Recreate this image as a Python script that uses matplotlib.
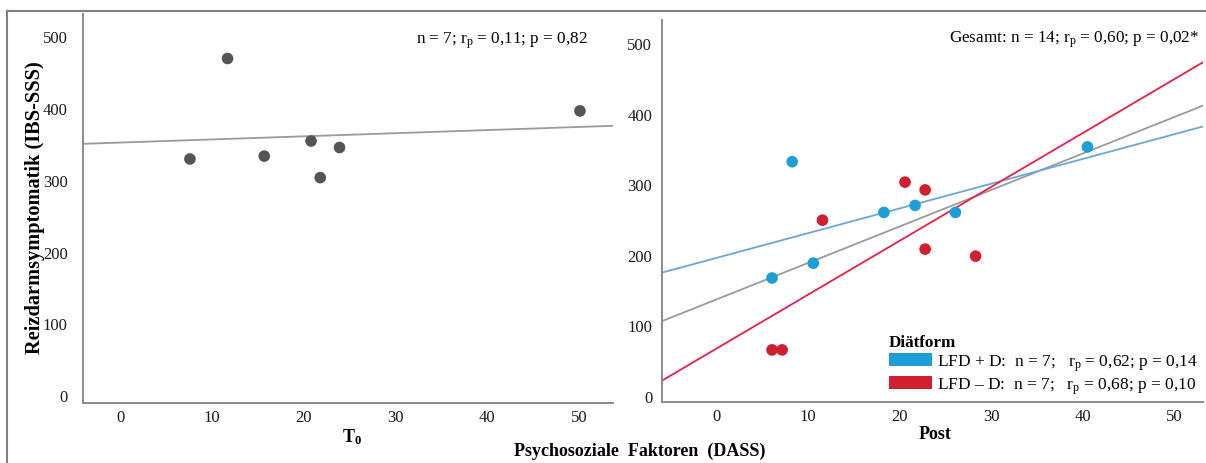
import numpy as np
import matplotlib
matplotlib.use("Agg")
import matplotlib.pyplot as plt
from matplotlib.patches import Patch
from matplotlib.lines import Line2D

plt.rcParams["font.family"] = ["Liberation Serif", "DejaVu Serif"]
plt.rcParams["mathtext.fontset"] = "custom"
plt.rcParams["mathtext.rm"] = "Liberation Serif"
plt.rcParams["mathtext.it"] = "Liberation Serif:italic"
plt.rcParams["mathtext.bf"] = "Liberation Serif:bold"

# DASS-Werte und IBS-SSS zum Zeitpunkt T0
t0_dass = [7.6, 11.7, 15.7, 20.8, 21.8, 23.9, 50.1]
t0_ibs = [329, 469, 333, 354, 303, 345, 396]

# Post: getrennt nach Diätform
lfd_plus_dass = [8.3, 6.1, 10.6, 18.3, 21.7, 26.1, 40.5]
lfd_plus_ibs = [332, 167, 188, 260, 270, 260, 353]
lfd_minus_dass = [11.6, 20.6, 22.8, 22.8, 28.3, 6.1, 7.2]
lfd_minus_ibs = [249, 303, 292, 208, 198, 65, 65]

x_ticks = [0, 10, 20, 30, 40, 50]
y_ticks = [0, 100, 200, 300, 400, 500]

blau_punkt = "#1c9fd6"
rot_punkt = "#cf1f30"
blau_linie = "#6aa6de"
rot_linie = "#e8204a"
grau_linie = "#9a9a9a"
achse = "#8a8a8a"

W, H = 1206, 464
fig = plt.figure(figsize=(W / 100, H / 100), dpi=100)

# Rahmen um die Abbildung
fig.add_artist(Line2D([7 / W, 7 / W], [0, 1 - 12 / H], color="#7f7f7f", lw=1.5))
fig.add_artist(Line2D([7 / W, 1], [1 - 12 / H, 1 - 12 / H], color="#7f7f7f", lw=1.5))


def box(x0, x1, y0, y1):
    return [x0 / W, 1 - y1 / H, (x1 - x0) / W, (y1 - y0) / H]


def achsen_stil(ax, pad_y):
    for s in ["top", "right"]:
        ax.spines[s].set_visible(False)
    for s in ["left", "bottom"]:
        ax.spines[s].set_color(achse)
        ax.spines[s].set_linewidth(1.4)
    ax.set_xticks(x_ticks)
    ax.set_yticks(y_ticks)
    ax.tick_params(axis="both", length=0, labelsize=12, colors="#1a1a1a")
    ax.tick_params(axis="x", pad=4)
    ax.tick_params(axis="y", pad=pad_y)


def fit_linie(ax, x, y, farbe):
    k, d = np.polyfit(x, y, 1)
    xs = np.array(ax.get_xlim())
    ax.plot(xs, k * xs + d, color=farbe, lw=1.3, zorder=2)


# --- T0 ---
ax1 = fig.add_axes(box(83, 613, 15, 404))
ax1.set_xlim(-4.05, 53.7)
ax1.set_ylim(-11, 531)
achsen_stil(ax1, 11)
fit_linie(ax1, t0_dass, t0_ibs, grau_linie)
ax1.scatter(t0_dass, t0_ibs, s=70, color="#555555", edgecolors="none", zorder=3)
ax1.text(0.953, 0.935, r"n = 7; r$_\mathrm{p}$ = 0,11; p = 0,82", transform=ax1.transAxes,
         ha="right", va="center", fontsize=12.3)

# --- Post ---
ax2 = fig.add_axes(box(662, 1203, 21, 403))
ax2.set_xlim(-5.9, 53.1)
ax2.set_ylim(-8.9, 533)
achsen_stil(ax2, 7)
alle_x = lfd_plus_dass + lfd_minus_dass
alle_y = lfd_plus_ibs + lfd_minus_ibs
fit_linie(ax2, alle_x, alle_y, grau_linie)
fit_linie(ax2, lfd_plus_dass, lfd_plus_ibs, blau_linie)
fit_linie(ax2, lfd_minus_dass, lfd_minus_ibs, rot_linie)
ax2.scatter(lfd_plus_dass, lfd_plus_ibs, s=70, color=blau_punkt, edgecolors="none", zorder=3)
ax2.scatter(lfd_minus_dass, lfd_minus_ibs, s=70, color=rot_punkt, edgecolors="none", zorder=3)
ax2.text(0.994, 0.95, r"Gesamt: n = 14; r$_\mathrm{p}$ = 0,60; p = 0,02*", transform=ax2.transAxes,
         ha="right", va="center", fontsize=12.3)

handles = [Patch(facecolor=blau_punkt, edgecolor="none"), Patch(facecolor=rot_punkt, edgecolor="none")]
labels = [r"LFD + D:  n = 7;   r$_\mathrm{p}$ = 0,62; p = 0,14",
          r"LFD – D:  n = 7;   r$_\mathrm{p}$ = 0,68; p = 0,10"]
leg = ax2.legend(handles, labels, title="Diätform", loc="lower right",
                 bbox_to_anchor=(1.014, -0.016), frameon=False, fontsize=12.5,
                 title_fontproperties={"weight": "bold", "size": 12.3},
                 handlelength=2.5, handleheight=0.8, handletextpad=0.3,
                 labelspacing=0.15, borderpad=0.2)
leg._legend_box.align = "left"

# Achsentitel
fig.text(35 / W, 1 - 208 / H, "Reizdarmsymptomatik (IBS-SSS)", rotation=90,
         ha="center", va="center", fontsize=14.7, fontweight="bold")
fig.text(352 / W, 1 - 437 / H, r"$\mathbf{T_0}$", ha="center", va="center", fontsize=13)
fig.text(935 / W, 1 - 435 / H, "Post", ha="center", va="center", fontsize=13, fontweight="bold")
fig.text(640 / W, 1 - 451 / H, "Psychosoziale  Faktoren  (DASS)", ha="center", va="center",
         fontsize=13, fontweight="bold")

fig.savefig("out.png", dpi=100, facecolor="white")
